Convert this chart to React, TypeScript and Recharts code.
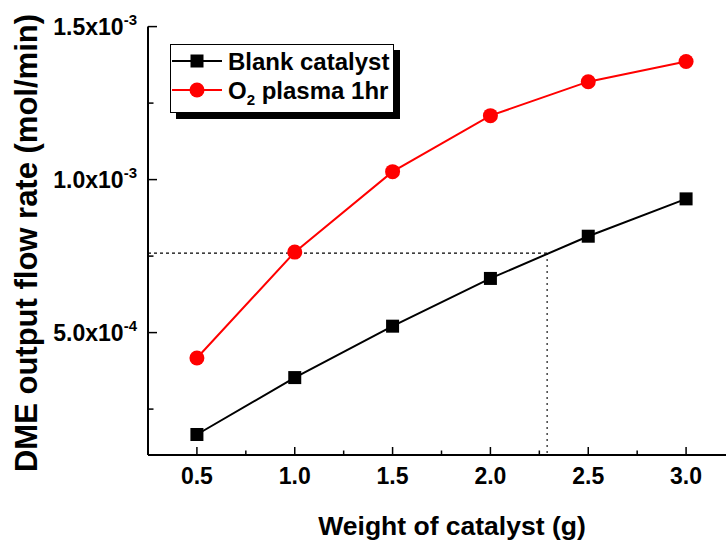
import { LineChart, Line, XAxis, YAxis, ReferenceLine } from "recharts";

// catalyst weight (g) and DME output flow rate (mol/min)
const WEIGHTS = [0.5, 1.0, 1.5, 2.0, 2.5, 3.0];
const BLANK = [1.67e-4, 3.53e-4, 5.21e-4, 6.77e-4, 8.15e-4, 9.37e-4];
const O2_PLASMA = [4.17e-4, 7.63e-4, 1.026e-3, 1.209e-3, 1.32e-3, 1.386e-3];

const X_TICKS = [0.5, 0.75, 1.0, 1.25, 1.5, 1.75, 2.0, 2.25, 2.5, 2.75, 3.0];
const X_MAJOR = [0.5, 1.0, 1.5, 2.0, 2.5, 3.0];
const X_LABELS = ["0.5", "1.0", "1.5", "2.0", "2.5", "3.0"];

const Y_TICKS = [2.5e-4, 5e-4, 7.5e-4, 1e-3, 1.25e-3, 1.5e-3];
const Y_MAJOR = [5e-4, 1e-3, 1.5e-3];
const Y_MANTISSA = ["5.0", "1.0", "1.5"];
const Y_EXPONENT = ["-4", "-3", "-3"];

// dotted read-off guide
const GUIDE_X = 2.29;
const GUIDE_Y = 7.6e-4;

const X_DOMAIN: [number, number] = [0.25, 3.25];
const Y_DOMAIN: [number, number] = [1e-4, 1.5e-3];

const FONT = '"Liberation Sans", Arial, sans-serif';

const data = WEIGHTS.map((w, i) => ({ w, blank: BLANK[i], o2: O2_PLASMA[i] }));

const near = (a: number, b: number) => Math.abs(a - b) < 1e-9;

function BottomTick({ x, y, payload }: any) {
  const i = X_MAJOR.findIndex((v) => near(v, payload.value));
  const major = i >= 0;
  return (
    <g>
      <line x1={x} x2={x} y1={y} y2={y - (major ? 8 : 4.5)} stroke="#000" strokeWidth={1.5} />
      {major && (
        <text x={x} y={y + 28.5} textAnchor="middle" fontFamily={FONT} fontWeight="bold" fontSize={23} fill="#000">
          {X_LABELS[i]}
        </text>
      )}
    </g>
  );
}

function TopTick({ x, y }: any) {
  return <line x1={x} x2={x} y1={y} y2={y + 3} stroke="#000" strokeWidth={1} />;
}

function LeftTick({ x, y, payload }: any) {
  const i = Y_MAJOR.findIndex((v) => near(v, payload.value));
  const major = i >= 0;
  return (
    <g>
      <line x1={x} x2={x + (major ? 9 : 5.5)} y1={y} y2={y} stroke="#000" strokeWidth={1.5} />
      {major && (
        <text x={x - 11} y={y + 8} textAnchor="end" fontFamily={FONT} fontWeight="bold" fontSize={23} fill="#000">
          <tspan>{Y_MANTISSA[i]}x10</tspan>
          <tspan dy={-10} fontSize={15}>{Y_EXPONENT[i]}</tspan>
        </text>
      )}
    </g>
  );
}

function SquareDot({ cx, cy }: any) {
  if (cx == null || cy == null) return null;
  return <rect x={cx - 6.5} y={cy - 6.5} width={13} height={13} fill="#000" />;
}

function LegendBox() {
  return (
    <div
      style={{
        position: "absolute",
        left: 170,
        top: 44,
        width: 224,
        height: 69,
        boxSizing: "border-box",
        border: "1.5px solid #000",
        boxShadow: "6px 6px 0 #000",
        background: "#fff",
      }}
    >
      <svg width={221} height={66} style={{ display: "block" }}>
        <line x1={1} x2={51} y1={16} y2={16} stroke="#000" strokeWidth={2} />
        <rect x={19.5} y={9.5} width={13} height={13} fill="#000" />
        <text x={57} y={24.5} fontFamily={FONT} fontWeight="bold" fontSize={24} fill="#000">
          Blank catalyst
        </text>
        <line x1={1} x2={51} y1={45} y2={45} stroke="#ff0000" strokeWidth={2} />
        <circle cx={26} cy={45} r={7.5} fill="#ff0000" />
        <text x={57} y={53.5} fontFamily={FONT} fontWeight="bold" fontSize={24} fill="#000">
          O<tspan dy={6} fontSize={15}>2</tspan>
          <tspan dy={-6}> plasma 1hr</tspan>
        </text>
      </svg>
    </div>
  );
}

export default function App() {
  return (
    <div
      style={{
        position: "absolute",
        left: 0,
        top: 0,
        width: 726,
        height: 546,
        overflow: "hidden",
        background: "#fff",
      }}
    >
      <LineChart width={760} height={546} data={data} margin={{ top: 26.6, right: 25, left: 0, bottom: 0 }}>
        <XAxis
          dataKey="w"
          type="number"
          domain={X_DOMAIN}
          ticks={X_TICKS}
          allowDataOverflow
          height={91}
          tickSize={0}
          tickMargin={0}
          tick={<BottomTick />}
          axisLine={{ stroke: "#000", strokeWidth: 2 }}
          interval={0}
        />
        <XAxis
          xAxisId="top"
          orientation="top"
          type="number"
          domain={X_DOMAIN}
          ticks={X_TICKS}
          allowDataOverflow
          height={0}
          tickSize={0}
          tickMargin={0}
          tick={<TopTick />}
          axisLine={{ stroke: "#000", strokeWidth: 1.5 }}
          interval={0}
        />
        <YAxis
          type="number"
          domain={Y_DOMAIN}
          ticks={Y_TICKS}
          allowDataOverflow
          width={148}
          tickSize={0}
          tickMargin={0}
          tick={<LeftTick />}
          axisLine={{ stroke: "#000", strokeWidth: 2 }}
          interval={0}
        />
        <ReferenceLine
          segment={[
            { x: X_DOMAIN[0], y: GUIDE_Y },
            { x: GUIDE_X, y: GUIDE_Y },
          ]}
          stroke="#000"
          strokeWidth={1.2}
          strokeDasharray="3 3"
          ifOverflow="visible"
        />
        <ReferenceLine
          segment={[
            { x: GUIDE_X, y: GUIDE_Y },
            { x: GUIDE_X, y: Y_DOMAIN[0] },
          ]}
          stroke="#444"
          strokeWidth={1.5}
          strokeDasharray="2 4"
          ifOverflow="visible"
        />
        <Line
          dataKey="blank"
          stroke="#000"
          strokeWidth={2}
          dot={<SquareDot />}
          activeDot={false}
          isAnimationActive={false}
        />
        <Line
          dataKey="o2"
          stroke="#ff0000"
          strokeWidth={2}
          dot={{ r: 7.5, fill: "#ff0000", stroke: "#ff0000", strokeWidth: 0 }}
          activeDot={false}
          isAnimationActive={false}
        />
      </LineChart>
      <LegendBox />
      <svg width={726} height={546} style={{ position: "absolute", left: 0, top: 0, pointerEvents: "none" }}>
        <text
          transform="translate(26,243) rotate(-90)"
          textAnchor="middle"
          dominantBaseline="central"
          fontFamily={FONT}
          fontWeight="bold"
          fontSize={31}
          fill="#000"
        >
          DME output flow rate (mol/min)
        </text>
        <text x={452} y={535} textAnchor="middle" fontFamily={FONT} fontWeight="bold" fontSize={26.5} fill="#000">
          Weight of catalyst (g)
        </text>
      </svg>
    </div>
  );
}
